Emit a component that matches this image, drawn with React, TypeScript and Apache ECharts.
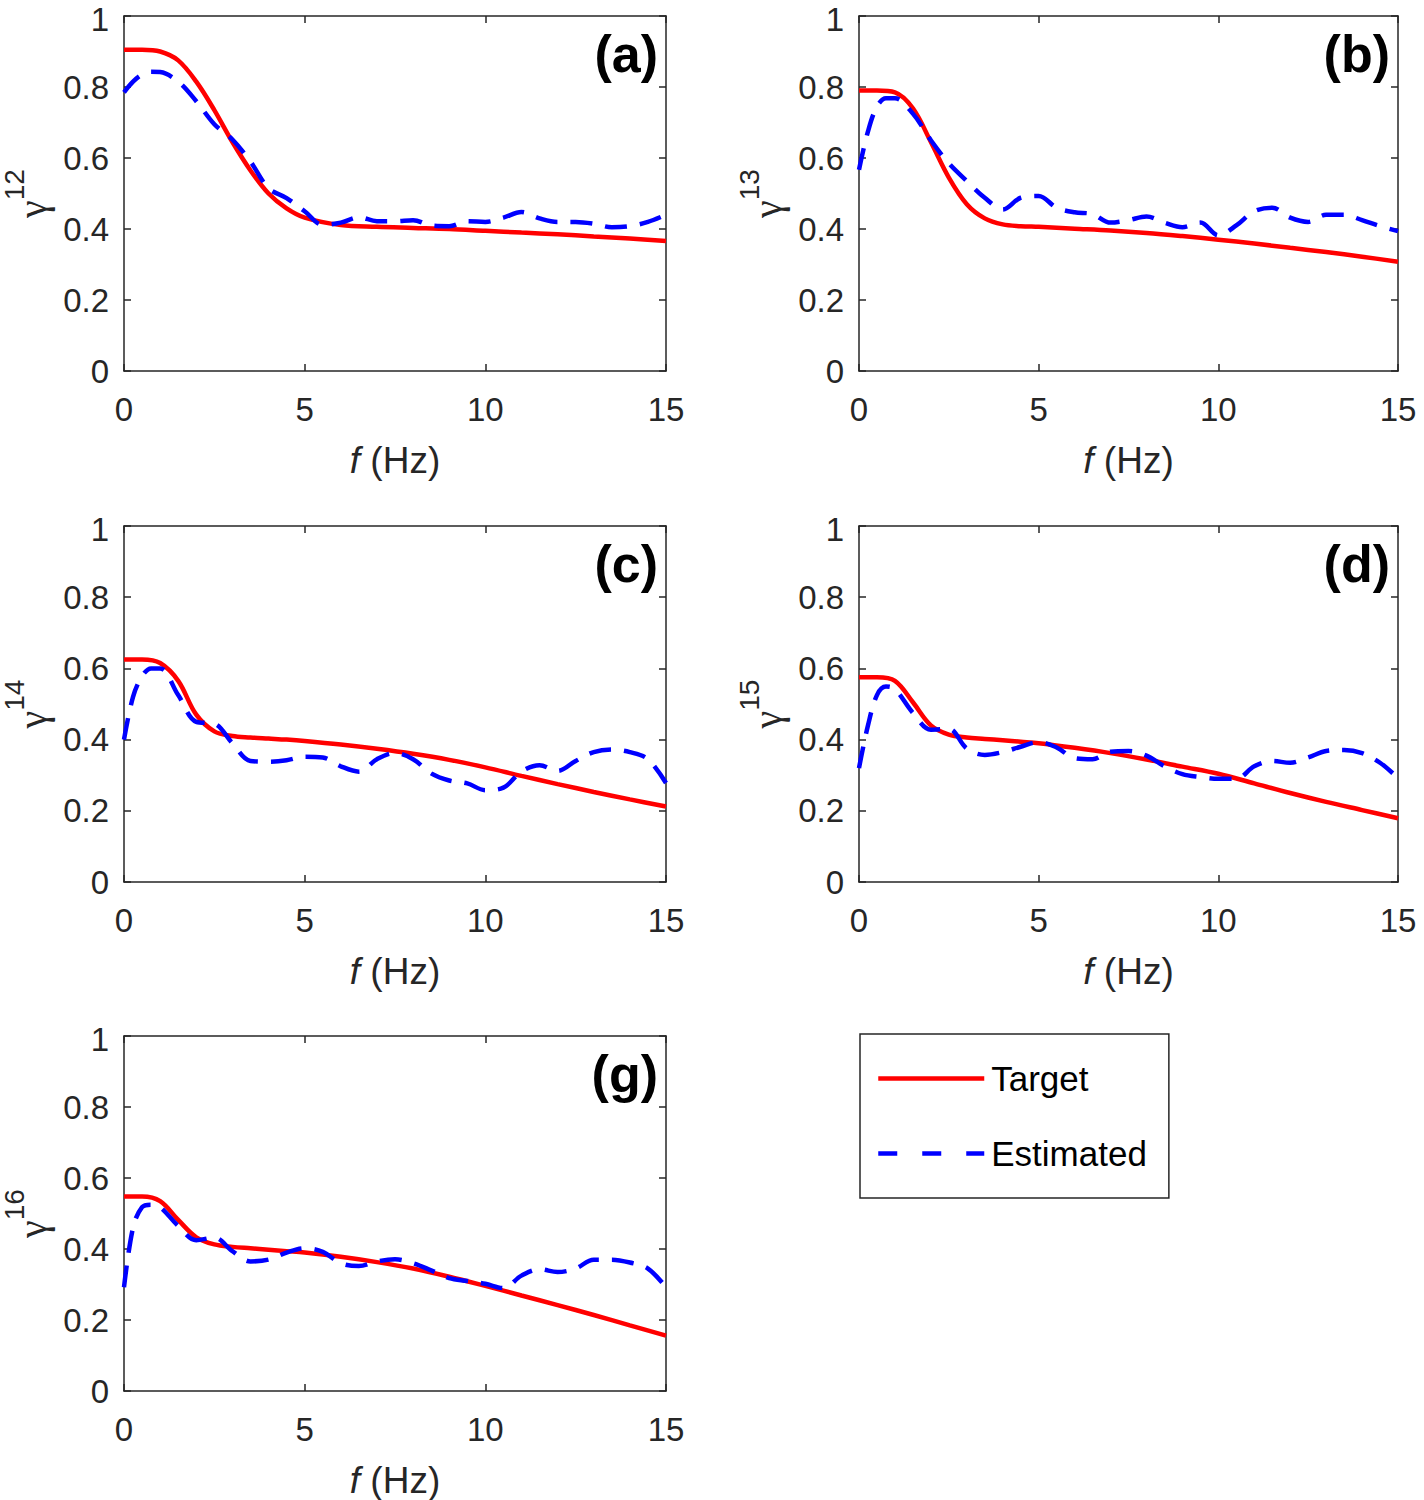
import React, { useEffect, useRef } from "react";
import * as echarts from "echarts";

const FONT = "'Liberation Sans', Arial, Helvetica, sans-serif";
const SYMBOL_FONT = "'Liberation Serif', 'DejaVu Serif', serif";
const AXIS_COLOR = "#262626";

// frequency grids (Hz)
const freqTarget = [0, 0.5, 1, 1.5, 2, 2.5, 3, 3.5, 4, 4.5, 5, 6, 7, 8, 9, 10, 11, 12, 13, 14, 15];
const freqEstimated = [
  0, 0.25, 0.5, 0.75, 1, 1.5, 2, 2.5, 3, 3.5, 4, 4.5, 5, 5.5, 6, 6.5, 7, 7.5, 8, 8.5, 9, 9.5, 10,
  10.5, 11, 11.5, 12, 12.5, 13, 13.5, 14, 14.5, 15,
];

const panelLabels = ["(a)", "(b)", "(c)", "(d)", "(g)"];
const pairLabels = ["12", "13", "14", "15", "16"];
const seriesNames = ["Target", "Estimated"];

// Target coherence
const targetA = [0.905, 0.905, 0.9, 0.875, 0.815, 0.735, 0.645, 0.565, 0.5, 0.458, 0.432, 0.411, 0.406, 0.403, 0.4, 0.395, 0.39, 0.385, 0.379, 0.373, 0.366];
const targetB = [0.79, 0.79, 0.785, 0.74, 0.645, 0.545, 0.47, 0.43, 0.413, 0.408, 0.406, 0.401, 0.396, 0.389, 0.38, 0.37, 0.359, 0.347, 0.335, 0.322, 0.308];
const targetC = [0.625, 0.625, 0.615, 0.565, 0.47, 0.423, 0.41, 0.406, 0.403, 0.4, 0.396, 0.386, 0.374, 0.36, 0.343, 0.322, 0.298, 0.275, 0.253, 0.232, 0.212];
const targetD = [0.575, 0.575, 0.565, 0.505, 0.44, 0.414, 0.406, 0.402, 0.398, 0.394, 0.39, 0.377, 0.362, 0.344, 0.324, 0.304, 0.277, 0.25, 0.225, 0.202, 0.179];
const targetG = [0.548, 0.548, 0.535, 0.482, 0.433, 0.413, 0.406, 0.402, 0.398, 0.394, 0.39, 0.378, 0.363, 0.345, 0.322, 0.296, 0.269, 0.242, 0.214, 0.185, 0.156];

// Estimated coherence
const estimatedA = [0.785, 0.815, 0.835, 0.843, 0.842, 0.815, 0.76, 0.695, 0.652, 0.59, 0.515, 0.487, 0.45, 0.412, 0.418, 0.433, 0.422, 0.422, 0.425, 0.41, 0.408, 0.422, 0.42, 0.432, 0.448, 0.43, 0.42, 0.42, 0.415, 0.405, 0.408, 0.42, 0.44];
const estimatedB = [0.567, 0.675, 0.745, 0.768, 0.768, 0.725, 0.65, 0.585, 0.535, 0.488, 0.455, 0.488, 0.493, 0.46, 0.447, 0.442, 0.418, 0.425, 0.435, 0.418, 0.405, 0.418, 0.382, 0.41, 0.45, 0.46, 0.432, 0.42, 0.44, 0.44, 0.425, 0.408, 0.394];
const estimatedC = [0.4, 0.52, 0.578, 0.6, 0.6, 0.525, 0.45, 0.445, 0.39, 0.34, 0.338, 0.342, 0.352, 0.35, 0.325, 0.31, 0.345, 0.362, 0.345, 0.305, 0.285, 0.277, 0.258, 0.265, 0.31, 0.328, 0.312, 0.34, 0.365, 0.372, 0.365, 0.345, 0.278];
const estimatedD = [0.32, 0.44, 0.525, 0.549, 0.542, 0.475, 0.428, 0.43, 0.375, 0.357, 0.365, 0.38, 0.393, 0.378, 0.348, 0.345, 0.366, 0.368, 0.355, 0.325, 0.303, 0.295, 0.29, 0.29, 0.325, 0.34, 0.335, 0.35, 0.368, 0.371, 0.362, 0.335, 0.292];
const estimatedG = [0.292, 0.46, 0.518, 0.525, 0.518, 0.465, 0.425, 0.432, 0.394, 0.365, 0.37, 0.39, 0.402, 0.392, 0.36, 0.352, 0.365, 0.371, 0.36, 0.34, 0.318, 0.31, 0.302, 0.29, 0.325, 0.343, 0.335, 0.345, 0.37, 0.37, 0.362, 0.345, 0.292];

const targets = [targetA, targetB, targetC, targetD, targetG];
const estimates = [estimatedA, estimatedB, estimatedC, estimatedD, estimatedG];

const gridRects = [
  { left: 124, top: 16, width: 542, height: 355 },
  { left: 859, top: 16, width: 539, height: 355 },
  { left: 124, top: 526, width: 542, height: 356 },
  { left: 859, top: 526, width: 539, height: 356 },
  { left: 124, top: 1036, width: 542, height: 355 },
];

function buildOption() {
  const grid: any[] = [];
  const xAxis: any[] = [];
  const yAxis: any[] = [];
  const series: any[] = [];
  const graphic: any[] = [];

  const axisLine = { show: true, onZero: false, lineStyle: { color: AXIS_COLOR, width: 1.5 } };
  const axisTick = { show: true, inside: true, length: 7, lineStyle: { color: AXIS_COLOR, width: 1.5 } };

  gridRects.forEach((r, i) => {
    grid.push({ ...r, containLabel: false, outerBoundsMode: "none", show: false });
    xAxis.push({
      type: "value",
      gridIndex: i,
      position: "bottom",
      min: 0,
      max: 15,
      interval: 5,
      axisLine,
      axisTick,
      splitLine: { show: false },
      axisLabel: { fontSize: 33, color: AXIS_COLOR, fontFamily: FONT, margin: 22 },
      name: "{i|f} (Hz)",
      nameLocation: "middle",
      nameGap: 71,
      nameTextStyle: {
        fontSize: 37,
        color: AXIS_COLOR,
        fontFamily: FONT,
        rich: { i: { fontSize: 37, fontStyle: "italic", color: AXIS_COLOR, fontFamily: FONT } },
      },
    });
    xAxis.push({
      type: "value",
      gridIndex: i,
      position: "top",
      min: 0,
      max: 15,
      interval: 5,
      axisLine,
      axisTick,
      splitLine: { show: false },
      axisLabel: { show: false },
    });
    yAxis.push({
      type: "value",
      gridIndex: i,
      position: "left",
      min: 0,
      max: 1,
      interval: 0.2,
      axisLine,
      axisTick,
      splitLine: { show: false },
      axisLabel: {
        fontSize: 33,
        lineHeight: 24,
        color: AXIS_COLOR,
        fontFamily: FONT,
        margin: 15,
        formatter: (v: number) => {
          const s = String(parseFloat(v.toFixed(1)));
          return v >= 1 ? `{top|${s}}` : s;
        },
        rich: {
          top: { fontSize: 33, lineHeight: 24, padding: [6, 0, 0, 0], color: AXIS_COLOR, fontFamily: FONT },
        },
      },
      name: `{g|γ}{s|${pairLabels[i]}}`,
      nameLocation: "middle",
      nameRotate: 90,
      nameGap: 72,
      nameTextStyle: {
        color: AXIS_COLOR,
        fontFamily: FONT,
        rich: {
          g: { fontSize: 40, verticalAlign: "bottom", lineHeight: 52, color: AXIS_COLOR, fontFamily: SYMBOL_FONT },
          s: { fontSize: 28, verticalAlign: "top", lineHeight: 52, color: AXIS_COLOR, fontFamily: FONT },
        },
      },
    });
    yAxis.push({
      type: "value",
      gridIndex: i,
      position: "right",
      min: 0,
      max: 1,
      interval: 0.2,
      axisLine,
      axisTick,
      splitLine: { show: false },
      axisLabel: { show: false },
    });

    series.push({
      name: seriesNames[0],
      type: "line",
      xAxisIndex: i * 2,
      yAxisIndex: i * 2,
      data: freqTarget.map((f, k) => [f, targets[i][k]]),
      smooth: 0.35,
      symbol: "none",
      showSymbol: false,
      lineStyle: { color: "#ff0000", width: 4.5 },
      itemStyle: { color: "#ff0000" },
    });
    series.push({
      name: seriesNames[1],
      type: "line",
      xAxisIndex: i * 2,
      yAxisIndex: i * 2,
      data: freqEstimated.map((f, k) => [f, estimates[i][k]]),
      smooth: 0.35,
      symbol: "none",
      showSymbol: false,
      lineStyle: { color: "#0000ff", width: 4.5, type: [22, 13] },
      itemStyle: { color: "#0000ff" },
    });

    graphic.push({
      type: "text",
      x: r.left + r.width - 8,
      y: r.top + 38,
      style: {
        text: panelLabels[i],
        fontSize: 52,
        fontWeight: "bold",
        fontFamily: FONT,
        fill: "#000",
        align: "right",
        verticalAlign: "middle",
      },
    });
  });

  return {
    animation: false,
    backgroundColor: "#ffffff",
    grid,
    xAxis,
    yAxis,
    series,
    graphic,
    legend: {
      left: 860,
      top: 1034,
      orient: "vertical",
      selectedMode: false,
      padding: [27, 22, 27, 16],
      itemWidth: 106,
      itemHeight: 30,
      itemGap: 40,
      borderColor: AXIS_COLOR,
      borderWidth: 1.5,
      backgroundColor: "#ffffff",
      itemStyle: { opacity: 0 },
      textStyle: { fontSize: 35, color: "#000", fontFamily: FONT, padding: [0, 0, 0, 2] },
      data: [
        { name: seriesNames[0], itemStyle: { opacity: 0 }, lineStyle: { color: "#ff0000", width: 4.5 } },
        { name: seriesNames[1], itemStyle: { opacity: 0 }, lineStyle: { color: "#0000ff", width: 4.5, type: [19, 25] } },
      ],
    },
  };
}

export default function App() {
  const ref = useRef<HTMLDivElement>(null);
  useEffect(() => {
    if (!ref.current) return;
    const chart = echarts.init(ref.current, undefined, { renderer: "svg" });
    chart.setOption(buildOption() as any);
    return () => chart.dispose();
  }, []);
  return (
    <div
      ref={ref}
      style={{ position: "absolute", left: 0, top: 0, width: 1424, height: 1500, background: "#fff" }}
    />
  );
}
